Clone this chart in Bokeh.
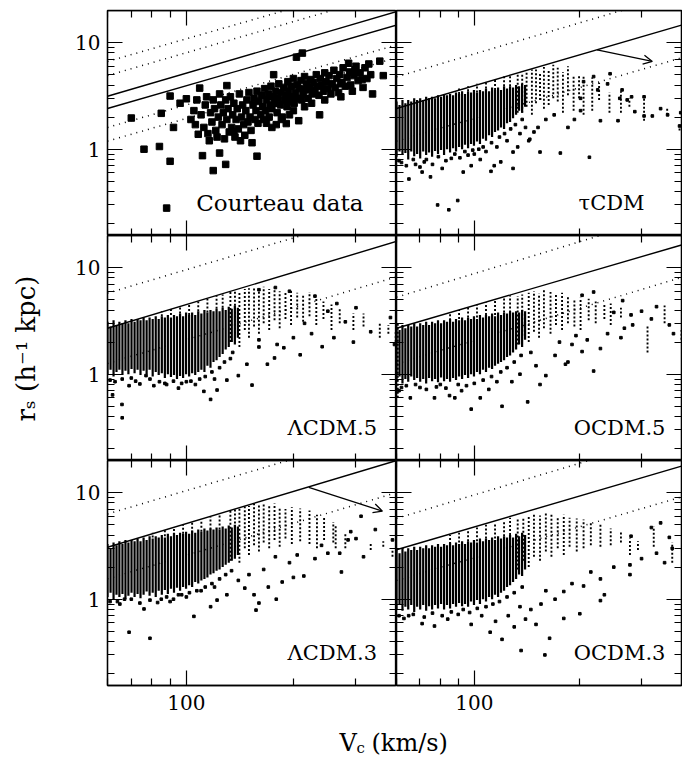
import numpy as np
from bokeh.plotting import figure
from bokeh.models import Range1d, FixedTicker, NumeralTickFormatter, Label, Arrow, OpenHead, LogAxis
from bokeh.layouts import row, column
from bokeh.embed import file_html
from bokeh.resources import INLINE

# ---------------- axes ----------------
v_range = (60, 390)
r_range = (0.155, 20)
v_major_ticks = [100]
v_minor_ticks = [60, 70, 80, 90, 200, 300]
r_major_ticks = [1, 10]
r_minor_ticks = [0.2, 0.3, 0.4, 0.5, 0.6, 0.7, 0.8, 0.9, 2, 3, 4, 5, 6, 7, 8, 9, 20]

# ---------------- reference lines: (r_s at V=60, r_s at V=390) ----------------
line_v = [60, 390]
courteau_solid = [(3.14, 19.5), (2.41, 14.6)]
courteau_dotted = [(6.65, 40.0), (4.9, 30.0), (1.60, 9.5), (1.19, 7.2)]
tau_solid = [(2.41, 14.6)]
tau_dotted = [(4.77, 29.3), (1.19, 7.2)]
l5_solid = [(2.70, 17.6)]
l5_dotted = [(5.76, 36.8), (1.26, 8.2)]
o5_solid = [(2.70, 16.3)]
o5_dotted = [(5.28, 34.0), (1.25, 8.1)]
l3_solid = [(3.07, 20.0)]
l3_dotted = [(6.3, 40.0), (1.55, 10.0)]
o3_solid = [(2.91, 17.7)]
o3_dotted = [(5.73, 36.6), (1.50, 9.1)]

# arrows: (V start, r start, V end, r end)
tau_arrow = (224, 8.55, 322, 6.65)
l3_arrow = (221, 11.2, 356, 6.7)

# ---------------- Courteau data (V_c, r_s) ----------------
courteau = [
    (70, 1.96), (76, 1.0), (84, 1.06), (90, 0.77), (88, 0.28), (85, 2.17), (90, 3.15), (92, 1.6), (96, 2.7), (100, 2.97),
    (103, 1.9), (108, 1.38), (109, 3.74), (111, 0.87), (116, 1.2), (119, 0.63), (124, 0.92), (129, 0.72), (130, 3.95), (136, 1.47),
    (153, 1.15), (158, 0.86), (176, 5.0), (179, 1.7), (191, 1.74), (204, 7.3), (212, 7.97), (207, 1.85), (237, 2.1), (272, 3.1),
    (286, 6.4), (312, 4.5), (350, 6.7), (358, 4.9), (298, 5.55), (272, 4.1),
    (105, 2.3), (106, 1.7), (107, 2.9), (110, 2.1), (112, 1.6), (113, 2.6), (114, 3.1), (115, 1.4), (117, 2.2), (118, 1.8),
    (119, 2.9), (120, 2.4), (121, 1.5), (122, 1.3), (123, 2.0), (124, 3.3), (125, 2.6), (126, 1.7), (127, 2.2), (128, 1.25),
    (129, 2.9), (130, 1.9), (131, 2.4), (132, 1.45), (133, 3.1), (134, 1.6), (135, 2.1), (136, 2.7), (137, 1.3), (138, 1.9),
    (139, 2.4), (140, 1.55), (141, 3.3), (142, 1.2), (143, 2.0), (144, 2.6), (145, 1.7), (146, 1.35), (147, 2.3), (148, 2.9),
    (149, 1.8), (150, 3.4), (151, 2.0), (152, 1.5), (154, 2.6), (155, 3.0), (156, 1.9), (157, 2.3), (158, 3.5), (159, 1.75),
    (160, 2.8), (162, 2.1), (163, 3.2), (164, 2.5), (165, 1.9), (166, 3.7), (167, 2.3), (168, 2.9), (170, 3.3), (171, 2.0),
    (172, 2.6), (173, 3.9), (174, 2.4), (175, 3.1), (177, 2.7), (178, 3.5), (180, 2.2), (181, 3.0), (182, 4.1), (184, 2.6),
    (185, 3.4), (186, 2.0), (188, 3.8), (189, 2.9), (190, 3.2), (192, 2.5), (193, 4.3), (194, 3.5), (196, 2.8), (197, 3.9),
    (198, 3.1), (200, 4.6), (201, 2.7), (203, 3.4), (205, 4.0), (206, 3.0), (208, 3.7), (210, 4.4), (211, 2.9), (213, 3.3),
    (215, 4.8), (216, 3.6), (218, 4.1), (220, 3.0), (222, 3.8), (224, 4.5), (226, 3.3), (228, 4.2), (230, 3.6), (232, 5.0),
    (234, 3.9), (236, 3.2), (238, 4.6), (240, 4.0), (243, 3.5), (245, 5.2), (247, 4.3), (250, 3.7), (252, 4.9), (255, 3.3),
    (257, 4.1), (260, 5.5), (262, 3.8), (265, 4.6), (268, 3.4), (270, 5.0), (274, 4.2), (276, 5.8), (280, 3.9), (283, 4.7),
    (288, 5.3), (290, 4.0), (293, 3.5), (296, 4.9), (300, 6.0), (304, 4.4), (308, 5.2), (314, 3.8), (318, 5.8), (322, 4.6),
    (326, 6.3), (330, 5.0), (334, 3.3), (168, 1.75), (174, 1.6), (185, 1.9), (195, 2.1), (200, 2.3), (215, 2.5), (225, 2.7),
    (245, 2.9),
]

# ---------------- simulated haloes: dense core columns (V_c) with r_s extent ----------------
core_v = [60, 61.2, 62.4, 63.6, 64.8, 66.1, 67.4, 68.7, 70.1, 71.5, 72.9, 74.3, 75.8, 77.3, 78.8, 80.4,
          82.0, 83.6, 85.3, 87.0, 88.7, 90.5, 92.3, 94.1, 96.0, 97.9, 99.8, 101.8, 103.8, 105.9, 108.0,
          110.2, 112.4, 114.6, 116.9, 119.2, 121.6, 124.0, 126.5, 129.0, 131.6, 134.2, 136.9, 139.6]

tau_core_lo = [0.85, 0.95, 0.88, 0.92, 0.80, 0.95, 0.86, 0.90, 0.82, 0.95, 0.88, 0.93, 0.85, 0.96, 0.90, 0.98,
               0.88, 1.00, 0.93, 1.02, 0.95, 1.05, 1.00, 1.10, 1.02, 1.12, 1.08, 1.18, 1.12, 1.25, 1.20,
               1.35, 1.30, 1.45, 1.50, 1.60, 1.55, 1.75, 1.80, 1.95, 2.1, 2.3, 2.2, 2.5]
tau_core_hi = [2.8, 2.6, 2.9, 2.7, 2.9, 2.8, 3.0, 2.9, 3.0, 2.9, 3.1, 3.0, 3.1, 3.0, 3.2, 3.1,
               3.3, 3.2, 3.3, 3.2, 3.4, 3.3, 3.5, 3.3, 3.5, 3.4, 3.6, 3.4, 3.6, 3.5, 3.7,
               3.5, 3.8, 3.6, 3.8, 3.6, 3.9, 3.7, 3.9, 3.8, 4.0, 3.9, 4.1, 4.0]
l5_core_lo = [1.00, 1.10, 0.95, 1.05, 1.10, 0.98, 1.08, 1.00, 1.12, 1.02, 1.10, 0.98, 1.08, 1.00, 1.10, 0.95,
              1.05, 0.98, 1.02, 0.92, 1.00, 0.94, 0.98, 0.90, 0.96, 0.92, 1.00, 0.95, 1.02, 0.98, 1.05,
              1.10, 1.05, 1.20, 1.15, 1.30, 1.35, 1.45, 1.55, 1.70, 1.8, 2.0, 1.9, 2.2]
l5_core_hi = [3.1, 2.8, 3.2, 2.9, 3.1, 3.0, 3.2, 3.0, 3.3, 3.1, 3.3, 3.2, 3.4, 3.2, 3.4, 3.3,
              3.5, 3.3, 3.5, 3.4, 3.6, 3.4, 3.6, 3.5, 3.7, 3.5, 3.8, 3.6, 3.8, 3.6, 3.9,
              3.7, 4.0, 3.8, 4.0, 3.9, 4.1, 3.9, 4.2, 4.0, 4.3, 4.1, 4.4, 4.2]
o5_core_lo = [0.85, 0.95, 0.82, 0.90, 0.85, 0.95, 0.88, 0.92, 0.85, 0.90, 0.82, 0.92, 0.86, 0.90, 0.84, 0.93,
              0.86, 0.90, 0.85, 0.92, 0.88, 0.95, 0.90, 0.98, 0.92, 1.00, 0.95, 1.05, 1.00, 1.10, 1.05,
              1.15, 1.12, 1.20, 1.25, 1.30, 1.35, 1.45, 1.50, 1.60, 1.7, 1.9, 1.8, 2.1]
o5_core_hi = [2.8, 2.6, 2.9, 2.7, 2.9, 2.8, 3.0, 2.8, 3.0, 2.9, 3.1, 2.9, 3.1, 3.0, 3.2, 3.0,
              3.2, 3.1, 3.3, 3.1, 3.3, 3.2, 3.4, 3.2, 3.4, 3.3, 3.5, 3.3, 3.6, 3.4, 3.6,
              3.5, 3.7, 3.5, 3.8, 3.6, 3.8, 3.7, 3.9, 3.8, 3.9, 3.8, 4.0, 3.9]
l3_core_lo = [1.05, 1.15, 1.00, 1.10, 1.05, 1.12, 1.00, 1.08, 1.15, 1.05, 1.12, 1.02, 1.10, 1.18, 1.08, 1.15,
              1.05, 1.20, 1.10, 1.22, 1.12, 1.25, 1.15, 1.28, 1.20, 1.30, 1.25, 1.35, 1.30, 1.45, 1.40,
              1.50, 1.55, 1.60, 1.70, 1.75, 1.85, 1.90, 2.00, 2.10, 2.2, 2.3, 2.4, 2.6]
l3_core_hi = [3.3, 3.0, 3.4, 3.2, 3.5, 3.3, 3.6, 3.4, 3.6, 3.5, 3.7, 3.5, 3.8, 3.6, 3.9, 3.7,
              3.9, 3.8, 4.0, 3.8, 4.1, 3.9, 4.2, 4.0, 4.2, 4.1, 4.3, 4.1, 4.4, 4.2, 4.5,
              4.3, 4.6, 4.4, 4.6, 4.5, 4.7, 4.5, 4.8, 4.6, 4.9, 4.7, 5.0, 4.8]
o3_core_lo = [0.80, 0.90, 0.78, 0.85, 0.80, 0.88, 0.76, 0.85, 0.80, 0.88, 0.78, 0.86, 0.80, 0.88, 0.82, 0.90,
              0.80, 0.88, 0.82, 0.90, 0.85, 0.92, 0.86, 0.90, 0.85, 0.95, 0.88, 0.98, 0.90, 1.00, 0.95,
              1.05, 1.00, 1.10, 1.05, 1.15, 1.20, 1.30, 1.35, 1.45, 1.55, 1.7, 1.65, 1.9]
o3_core_hi = [2.9, 2.7, 3.0, 2.8, 3.0, 2.9, 3.1, 2.9, 3.1, 3.0, 3.2, 3.0, 3.2, 3.1, 3.3, 3.1,
              3.3, 3.2, 3.4, 3.2, 3.4, 3.3, 3.5, 3.3, 3.5, 3.4, 3.6, 3.4, 3.7, 3.5, 3.7,
              3.6, 3.8, 3.6, 3.9, 3.7, 3.9, 3.8, 4.0, 3.8, 4.1, 3.9, 4.2, 4.0]

# ---------------- dotted vertical streaks (V_c, r_lo, r_hi) ----------------
tau_streaks = [(90.5, 3.3, 3.7), (96, 3.5, 3.9), (101.8, 3.4, 4.1), (108, 3.7, 4.3), (114.6, 3.6, 4.5),
               (121.6, 3.9, 4.8), (126.5, 3.9, 5.0),
               (133, 2.2, 5.0), (137, 2.2, 5.2), (141, 2.5, 5.4), (146, 2.1, 5.6), (150, 2.7, 5.6), (154, 2.9, 5.3),
               (158, 2.4, 5.9), (163, 2.6, 5.6), (168, 3.0, 6.2), (173, 2.8, 5.8), (179, 2.2, 5.3), (185, 3.2, 6.0),
               (192, 2.3, 4.8), (199, 3.0, 5.0), (205, 2.1, 4.8), (217, 2.3, 4.7), (227, 2.9, 4.2), (243, 2.2, 3.4),
               (262, 2.2, 3.5), (277, 2.5, 3.0), (305, 1.85, 3.2), (355, 2.1, 2.4), (385, 1.5, 1.77)]
l5_streaks = [(85.3, 3.5, 3.9), (90.5, 3.6, 4.1), (96, 3.7, 4.3), (101.8, 3.6, 4.6), (108, 3.9, 4.8),
              (114.6, 3.8, 5.1), (121.6, 4.1, 5.4), (126.5, 4.2, 5.6),
              (133, 2.0, 5.9), (137, 2.4, 6.1), (141, 1.8, 6.0), (146, 2.6, 6.3), (150, 2.2, 6.4), (155, 2.8, 6.5),
              (160, 2.4, 6.2), (165, 3.0, 6.6), (171, 2.6, 6.3), (177, 3.2, 6.5), (183, 2.7, 6.0), (190, 3.3, 5.8),
              (197, 2.9, 6.2), (205, 3.4, 5.8), (213, 3.1, 5.5), (222, 3.5, 5.9), (232, 2.9, 5.2), (243, 3.3, 4.8),
              (256, 2.6, 4.5), (270, 3.0, 4.1), (295, 2.6, 3.7), (315, 2.8, 3.7), (350, 2.2, 3.0), (370, 2.4, 2.9),
              (388, 2.0, 2.6)]
o5_streaks = [(60.5, 0.6, 3.0), (85.3, 3.2, 3.8), (90.5, 3.3, 4.0), (96, 3.4, 4.2), (101.8, 3.4, 4.5), (108, 3.6, 4.7),
              (114.6, 3.6, 5.0), (121.6, 3.8, 5.2), (126.5, 3.8, 5.5),
              (133, 1.9, 5.4), (137, 2.3, 5.6), (143, 2.0, 5.8), (148, 2.5, 6.0), (153, 2.2, 5.7), (158, 2.7, 6.2),
              (165, 2.4, 5.9), (171, 2.9, 5.6), (178, 2.6, 5.8), (185, 3.0, 5.3), (193, 2.8, 5.0), (201, 2.6, 5.2),
              (212, 3.2, 5.1), (222, 3.0, 4.8), (235, 3.3, 4.5), (245, 2.9, 4.6), (262, 3.4, 4.2), (312, 1.6, 2.9),
              (349, 3.0, 4.4), (390, 2.1, 2.6)]
l3_streaks = [(80.4, 3.8, 4.2), (87, 3.9, 4.5), (92.3, 4.0, 4.7), (97.9, 4.1, 5.0), (103.8, 4.2, 5.2),
              (110.2, 4.3, 5.5), (116.9, 4.5, 5.9), (124, 4.5, 6.2),
              (133, 2.3, 6.8), (137, 2.8, 7.0), (141, 2.2, 7.2), (146, 3.0, 7.4), (150, 2.6, 7.5), (155, 3.2, 7.8),
              (160, 2.8, 7.6), (165, 3.4, 8.0), (171, 3.0, 7.6), (177, 3.6, 7.9), (183, 3.1, 7.3), (190, 3.7, 7.0),
              (198, 3.3, 7.3), (209, 3.5, 7.1), (222, 3.3, 6.8), (233, 3.0, 6.2), (244, 3.6, 6.0), (259, 3.4, 5.3),
              (263, 3.0, 5.0), (280, 3.0, 4.1), (330, 2.9, 3.3), (358, 3.1, 3.5), (380, 2.5, 2.9)]
o3_streaks = [(85.3, 3.3, 4.0), (90.5, 3.4, 4.2), (96, 3.5, 4.5), (101.8, 3.5, 4.7), (108, 3.7, 5.0),
              (114.6, 3.7, 5.2), (121.6, 3.9, 5.5), (126.5, 4.0, 5.8),
              (133, 1.9, 5.6), (138, 2.3, 5.8), (143, 2.0, 6.0), (148, 2.5, 6.3), (154, 2.3, 6.1), (160, 2.8, 6.5),
              (166, 2.5, 6.3), (173, 3.0, 6.0), (180, 2.6, 6.2), (187, 3.1, 5.8), (196, 2.8, 5.7), (205, 3.0, 5.6),
              (215, 3.2, 5.3), (229, 3.1, 5.0), (245, 3.2, 4.6), (262, 3.4, 4.4), (278, 2.6, 3.7), (293, 2.9, 3.5),
              (325, 3.1, 4.8), (367, 2.2, 3.4)]

# ---------------- scattered haloes (V_c, r_s) ----------------
tau_pts = [(65.1, 0.525), (71, 0.61), (75, 0.55), (78.6, 0.30), (84.6, 0.27), (89.7, 0.33), (81, 0.66), (93, 0.61),
           (98, 0.7), (104, 0.8), (111.6, 0.62), (114, 0.7), (119, 0.76), (129, 0.66), (129, 0.94), (143, 1.2),
           (154, 0.94), (176, 0.92), (213, 0.84), (152, 1.6), (144, 1.24), (169, 2.1), (185, 1.6), (193, 1.9),
           (201, 2.3), (229, 1.85), (257, 1.85), (260, 3.0), (273, 2.9), (287, 2.25), (305, 2.05), (322, 2.05),
           (340, 2.4), (356, 2.1), (385, 1.65), (388, 2.2), (225, 3.6), (240, 4.1), (219, 4.8), (205, 4.3),
           (244, 5.1), (264, 3.6), (281, 3.1), (305, 3.1), (201, 3.0), (62, 0.75), (68, 0.72), (73, 0.8),
           (86, 0.82), (96, 0.88), (108, 0.95), (116, 1.05), (124, 1.2), (135, 1.4), (140, 1.6), (160, 1.9),
           (148, 1.45), (133, 1.05), (100, 0.9), (70, 0.68),
           (61, 0.78), (64, 0.7), (67, 0.8), (72, 0.76), (76, 0.72), (79, 0.85), (83, 0.78), (88, 0.9),
           (91, 0.83), (94, 0.95), (99, 0.98), (103, 1.0), (106, 1.05), (112, 1.15), (118, 1.3), (122, 1.4),
           (127, 1.55), (131, 1.7), (137, 1.9)]
l5_pts = [(65.9, 0.52), (66, 0.39), (62, 0.64), (117, 0.58), (153, 0.79), (209, 1.52), (241, 1.81), (295, 2.0),
          (188, 1.77), (169, 1.24), (177, 1.42), (148, 1.24), (140, 0.97), (130, 0.88), (122, 0.71), (112, 0.69),
          (106, 0.8), (95, 0.74), (81, 0.78), (74, 0.81), (69, 0.78), (77, 0.97), (135, 1.6), (160, 1.8),
          (200, 2.2), (225, 2.4), (260, 2.2), (280, 3.1), (330, 2.5), (375, 3.4), (385, 1.9), (160, 2.1),
          (120, 0.9), (100, 0.85), (88, 0.8), (180, 1.9), (215, 3.0), (250, 3.9), (300, 4.2), (265, 4.6),
          (230, 5.4), (195, 6.0), (178, 6.5), (160, 6.2),
          (61, 0.88), (63, 0.85), (66, 0.9), (70, 0.92), (72, 0.86), (79, 0.9), (84, 0.85), (87, 0.82),
          (92, 0.86), (97, 0.82), (103, 0.86), (109, 0.9), (113, 0.95), (118, 1.05), (124, 1.15), (128, 1.3),
          (133, 1.4)]
o5_pts = [(98, 0.47), (120, 0.5), (142, 0.55), (65.7, 0.6), (77, 0.6), (85, 0.63), (88, 0.6), (104, 0.6),
          (154, 0.8), (160, 0.97), (185, 1.3), (219, 1.07), (182, 1.24), (203, 1.63), (229, 1.74), (262, 2.2),
          (268, 2.7), (283, 2.9), (331, 4.3), (219, 5.9), (203, 5.5), (265, 4.9), (70, 0.75), (80, 0.8),
          (92, 0.7), (110, 0.72), (128, 0.85), (135, 1.0), (150, 1.2), (170, 1.5), (190, 1.9), (210, 2.1),
          (240, 2.4), (280, 3.6), (300, 3.9), (320, 3.3), (370, 2.4), (360, 2.9), (250, 3.8), (195, 2.3),
          (175, 2.0), (145, 1.6), (62, 0.75), (116, 0.85),
          (61, 0.7), (64, 0.78), (68, 0.8), (73, 0.72), (78, 0.76), (83, 0.74), (90, 0.8), (95, 0.78),
          (100, 0.82), (106, 0.88), (112, 0.95), (119, 1.05), (124, 1.15), (130, 1.3), (136, 1.5)]
l3_pts = [(69, 0.49), (79, 0.43), (76, 0.81), (105, 0.69), (117, 0.85), (157, 0.79), (179, 1.0), (186, 1.45),
          (214, 1.65), (273, 1.8), (315, 2.5), (160, 0.92), (146, 1.27), (122, 0.98), (130, 1.1), (140, 1.5),
          (150, 1.7), (165, 1.9), (170, 1.3), (195, 2.2), (200, 1.6), (230, 2.4), (250, 2.7), (300, 3.7),
          (310, 6.0), (290, 4.3), (120, 1.3), (110, 1.2), (95, 1.1), (85, 1.0), (90, 0.95), (64, 0.95),
          (67, 1.0), (100, 1.05), (155, 1.1), (178, 2.5), (205, 2.6), (240, 3.2), (270, 2.7), (285, 3.6),
          (340, 4.5), (380, 3.6),
          (61, 0.95), (65, 0.9), (70, 1.0), (74, 0.92), (79, 0.98), (83, 0.93), (88, 1.05), (92, 1.0),
          (97, 1.1), (102, 1.15), (107, 1.2), (113, 1.3), (118, 1.4), (124, 1.55), (129, 1.7), (134, 1.85)]
o3_pts = [(71, 0.59), (77, 0.56), (98, 0.58), (111, 0.49), (120, 0.42), (136, 0.33), (159, 0.3), (164, 0.43),
          (150, 0.58), (180, 0.66), (200, 0.73), (229, 0.97), (229, 1.55), (235, 1.1), (180, 1.18), (205, 1.33),
          (278, 2.1), (278, 1.7), (331, 2.7), (349, 2.2), (367, 3.0), (125, 0.7), (130, 0.55), (140, 0.65),
          (145, 0.8), (155, 0.9), (105, 0.7), (90, 0.72), (84, 0.65), (65, 0.7), (115, 0.62), (170, 1.0),
          (190, 1.4), (215, 1.8), (250, 2.0), (300, 2.4), (320, 4.7), (340, 5.2), (280, 3.9), (360, 3.8),
          (135, 0.85), (160, 1.2),
          (61, 0.7), (63, 0.66), (67, 0.72), (72, 0.68), (76, 0.74), (81, 0.7), (86, 0.76), (93, 0.8),
          (97, 0.75), (102, 0.82), (108, 0.85), (113, 0.9), (118, 0.95), (124, 1.05), (130, 1.15), (137, 1.3)]

# ---------------- panel labels: (text, right-edge V, baseline r) ----------------
label_courteau = ("Courteau data", 315, 0.314)
label_tau = ("\u03c4CDM", 306, 0.314)
label_l5 = ("\u039bCDM.5", 344, 0.31)
label_o5 = ("OCDM.5", 351, 0.31)
label_l3 = ("\u039bCDM.3", 344, 0.316)
label_o3 = ("OCDM.3", 351, 0.316)

FONT = "DejaVu Serif"


def style_axis(ax, major, minor, show_labels, fixed=None, standoff=7):
    ax.ticker = FixedTicker(ticks=major, minor_ticks=minor)
    ax.formatter = NumeralTickFormatter(format="0")
    ax.major_tick_in = 15
    ax.major_tick_out = 0
    ax.minor_tick_in = 7
    ax.minor_tick_out = 0
    ax.axis_line_color = "black"
    ax.axis_line_width = 1.3
    ax.major_tick_line_color = "black"
    ax.major_tick_line_width = 1.2
    ax.minor_tick_line_color = "black"
    ax.minor_tick_line_width = 1.2
    if show_labels:
        ax.major_label_text_font = FONT
        ax.major_label_text_font_size = "20px"
        ax.major_label_text_color = "black"
        ax.major_label_standoff = standoff
    else:
        ax.major_label_text_color = None
        ax.major_label_text_font_size = "0px"
        ax.major_label_standoff = 0
    ax.axis_label = None
    if fixed is not None:
        ax.fixed_location = fixed


def unzip(pairs):
    return [p[0] for p in pairs], [p[1] for p in pairs]


def make_panel(col, rw, solid, dotted, label, pts=None, core_lo=None, core_hi=None,
               streaks=None, arrow=None, squares=None):
    p = figure(x_axis_type="log", y_axis_type="log",
               x_range=Range1d(*v_range), y_range=Range1d(*r_range),
               frame_width=289 if col == 0 else 285, frame_height=225,
               min_border_left=57 if col == 0 else 0,
               min_border_right=0 if col == 0 else 1,
               min_border_top=10 if rw == 0 else 0,
               min_border_bottom=38 if rw == 2 else 0,
               output_backend="svg", toolbar_location=None,
               background_fill_color="white", border_fill_color="white")
    p.grid.visible = False
    p.outline_line_color = "black"
    p.outline_line_width = 1.3

    style_axis(p.xaxis[0], v_major_ticks, v_minor_ticks, rw == 2,
               None if rw == 2 else r_range[0], standoff=9)
    style_axis(p.yaxis[0], r_major_ticks, r_minor_ticks, col == 0,
               None if col == 0 else v_range[0], standoff=7)
    top = LogAxis()
    style_axis(top, v_major_ticks, v_minor_ticks, False, r_range[1])
    p.add_layout(top, "above")
    right = LogAxis()
    style_axis(right, r_major_ticks, r_minor_ticks, False, v_range[1])
    p.add_layout(right, "right")

    # data
    if core_lo is not None:
        p.segment(x0=core_v, y0=core_lo, x1=core_v, y1=core_hi,
                  line_color="black", line_width=2.2)
    if streaks is not None:
        sv = [s[0] for s in streaks]
        slo = [s[1] for s in streaks]
        shi = [s[2] for s in streaks]
        p.segment(x0=sv, y0=slo, x1=sv, y1=shi, line_color="black",
                  line_width=1.9, line_dash="2 2")
    if pts is not None:
        xv, yv = unzip(pts)
        p.scatter(xv, yv, marker="square", size=2.6, color="black")
    if squares is not None:
        xv, yv = unzip(squares)
        p.scatter(xv, yv, marker="square", size=6.5, color="black")

    for a, b in solid:
        p.line(line_v, [a, b], line_color="black", line_width=1.4)
    for a, b in dotted:
        p.line(line_v, [a, b], line_color="black", line_width=1.5, line_dash="1 5")

    if arrow is not None:
        p.add_layout(Arrow(x_start=arrow[0], y_start=arrow[1], x_end=arrow[2], y_end=arrow[3],
                           line_color="black", line_width=1.3,
                           end=OpenHead(size=9, line_color="black", line_width=1.3)))

    text, lx, ly = label
    size = "23px" if text.startswith("Courteau") else "21px"
    p.add_layout(Label(x=lx, y=ly, text=text, text_align="right", text_baseline="alphabetic",
                       text_font=FONT, text_font_size=size, text_color="black"))
    return p


p11 = make_panel(0, 0, courteau_solid, courteau_dotted, label_courteau, squares=courteau)
p12 = make_panel(1, 0, tau_solid, tau_dotted, label_tau, pts=tau_pts,
                 core_lo=tau_core_lo, core_hi=tau_core_hi, streaks=tau_streaks, arrow=tau_arrow)
p21 = make_panel(0, 1, l5_solid, l5_dotted, label_l5, pts=l5_pts,
                 core_lo=l5_core_lo, core_hi=l5_core_hi, streaks=l5_streaks)
p22 = make_panel(1, 1, o5_solid, o5_dotted, label_o5, pts=o5_pts,
                 core_lo=o5_core_lo, core_hi=o5_core_hi, streaks=o5_streaks)
p31 = make_panel(0, 2, l3_solid, l3_dotted, label_l3, pts=l3_pts,
                 core_lo=l3_core_lo, core_hi=l3_core_hi, streaks=l3_streaks, arrow=l3_arrow)
p32 = make_panel(1, 2, o3_solid, o3_dotted, label_o3, pts=o3_pts,
                 core_lo=o3_core_lo, core_hi=o3_core_hi, streaks=o3_streaks)

# ---------------- shared axis titles ----------------
ylab = figure(width=50, height=760, x_range=Range1d(0, 50), y_range=Range1d(0, 760),
              x_axis_location=None, y_axis_location=None, min_border=0,
              output_backend="svg", toolbar_location=None)
ylab.grid.visible = False
ylab.outline_line_color = None
ylab.add_layout(Label(x=25, y=412, text="r\u209b (h\u207b\u00b9 kpc)", angle=np.pi / 2,
                      text_align="center", text_baseline="middle",
                      text_font=FONT, text_font_size="26px", text_color="black"))

xlab = figure(width=632, height=37, x_range=Range1d(0, 632), y_range=Range1d(0, 37),
              x_axis_location=None, y_axis_location=None, min_border=0,
              output_backend="svg", toolbar_location=None)
xlab.grid.visible = False
xlab.outline_line_color = None
xlab.add_layout(Label(x=289, y=18, text="V", text_align="left", text_baseline="middle",
                      text_font=FONT, text_font_size="24px", text_color="black"))
xlab.add_layout(Label(x=306, y=13, text="c", text_align="left", text_baseline="middle",
                      text_font=FONT, text_font_size="15px", text_color="black"))
xlab.add_layout(Label(x=321, y=18, text="(km/s)", text_align="left", text_baseline="middle",
                      text_font=FONT, text_font_size="24px", text_color="black"))

layout = row(ylab, column(row(p11, p12), row(p21, p22), row(p31, p32), xlab))

open("out.html", "w").write(file_html(layout, INLINE))
